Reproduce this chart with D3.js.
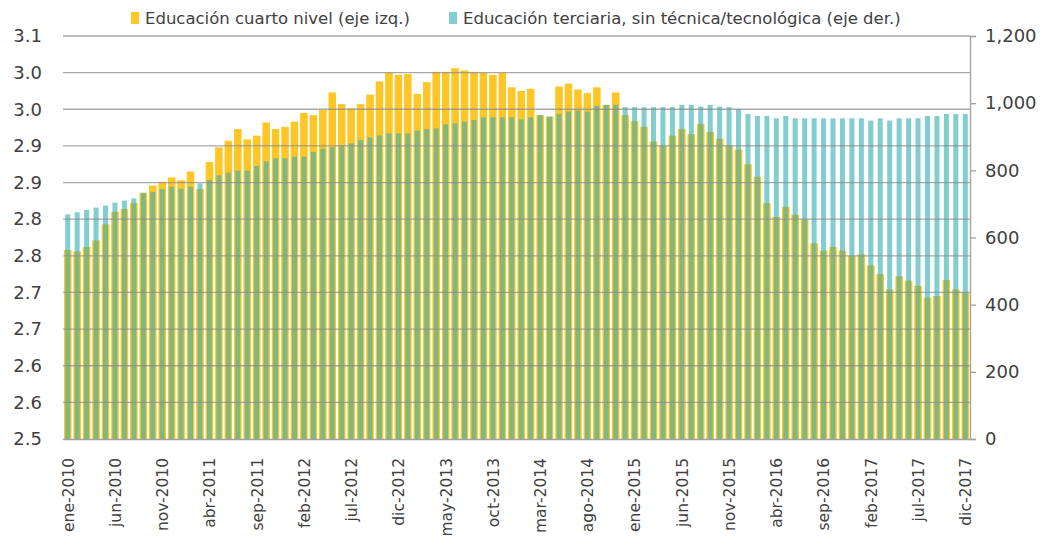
<!DOCTYPE html>
<html>
<head>
<meta charset="utf-8">
<script src="https://cdn.jsdelivr.net/npm/d3@7"></script>
<style>
body{margin:0;background:#fff}
text{font-family:'DejaVu Sans',sans-serif;fill:#404040}
</style>
</head>
<body>
<div id="chart"></div>
<script>
const monthNames=['ene','feb','mar','abr','may','jun','jul','ago','sep','oct','nov','dic']
const years=[2010,2011,2012,2013,2014,2015,2016,2017]
const months=years.flatMap(y=>monthNames.map(m=>m+'-'+y))

// Educación cuarto nivel (eje izq.)
const cuartoNivel=[
	2.758,2.756,2.762,2.771,2.793,2.810,2.814,2.822,2.836,2.846,
	2.851,2.857,2.853,2.865,2.841,2.878,2.898,2.907,2.923,2.909,
	2.914,2.932,2.923,2.926,2.933,2.945,2.942,2.949,2.973,2.957,
	2.951,2.957,2.970,2.988,3.000,2.997,2.998,2.971,2.987,3.001,
	3.001,3.006,3.003,3.001,3.000,2.997,3.000,2.980,2.975,2.978,
	2.942,2.940,2.981,2.985,2.977,2.972,2.980,2.956,2.973,2.942,
	2.934,2.926,2.906,2.900,2.914,2.923,2.916,2.930,2.919,2.910,
	2.901,2.895,2.875,2.858,2.822,2.803,2.817,2.806,2.800,2.767,
	2.757,2.762,2.757,2.750,2.752,2.737,2.725,2.704,2.722,2.716,
	2.709,2.693,2.695,2.717,2.704,2.700]

// Educación terciaria, sin técnica/tecnológica (eje der.)
const terciaria=[
	669,675,682,689,695,704,710,716,733,736,
	744,751,745,751,761,771,785,793,799,799,
	813,827,836,836,841,841,855,864,869,875,
	880,890,898,904,910,910,910,918,923,925,
	937,940,945,950,958,958,958,958,952,958,
	965,960,968,975,978,975,992,995,995,988,
	988,988,988,988,988,995,995,990,995,990,
	988,982,968,962,962,955,962,955,955,955,
	955,955,955,955,955,948,955,948,955,955,
	955,962,962,968,968,968]

const xTickLabels=['ene-2010','jun-2010','nov-2010','abr-2011','sep-2011','feb-2012','jul-2012','dic-2012','may-2013','oct-2013',
	'mar-2014','ago-2014','ene-2015','jun-2015','nov-2015','abr-2016','sep-2016','feb-2017','jul-2017','dic-2017']
const leftTicks=[2.5,2.55,2.6,2.65,2.7,2.75,2.8,2.85,2.9,2.95,3.0,3.05]
const leftTickLabels=['2.5','2.6','2.6','2.7','2.7','2.8','2.8','2.9','2.9','3.0','3.0','3.1']
const rightTicks=[0,200,400,600,800,1000,1200]
const seriesNames=['Educación cuarto nivel (eje izq.)','Educación terciaria, sin técnica/tecnológica (eje der.)']

const margin=({top:36,right:78,bottom:109,left:63})
const width=1048-margin.left-margin.right,
	height=548-margin.top-margin.bottom

const gold='#FFC628', teal='#39B0B0', tealOpacity=0.63

let svg=d3.select('#chart').append('svg')
	.attr('width',1048)
	.attr('height',548)

let g=svg.append('g')
	.attr('transform','translate('+margin.left+','+margin.top+')')

let xScale=d3.scaleBand()
	.domain(months)
	.range([0,width])
	.paddingInner(0.2)
	.paddingOuter(0.1)

let xNarrow=d3.scaleBand()
	.domain(months)
	.range([0,width])
	.paddingInner(0.47)
	.paddingOuter(0.235)

let yLeft=d3.scaleLinear()
	.domain([2.5,3.05])
	.range([height,0])

let yRight=d3.scaleLinear()
	.domain([0,1200])
	.range([height,0])

// bars
g.append('g').selectAll('rect')
	.data(cuartoNivel)
	.join('rect')
	.attr('x',(d,i)=>xScale(months[i]))
	.attr('width',xScale.bandwidth())
	.attr('y',d=>yLeft(d))
	.attr('height',d=>height-yLeft(d))
	.attr('fill',gold)

g.append('g').selectAll('rect')
	.data(terciaria)
	.join('rect')
	.attr('x',(d,i)=>xNarrow(months[i]))
	.attr('width',xNarrow.bandwidth())
	.attr('y',d=>yRight(d))
	.attr('height',d=>height-yRight(d))
	.attr('fill',teal)
	.attr('fill-opacity',tealOpacity)

// gridlines
g.append('g').selectAll('line')
	.data(leftTicks.slice(1))
	.join('line')
	.attr('x1',0)
	.attr('x2',width)
	.attr('y1',d=>yLeft(d))
	.attr('y2',d=>yLeft(d))
	.attr('stroke','#8c8c8c')
	.attr('stroke-opacity',0.75)
	.attr('stroke-width',1.3)

// left axis
let yAxisLeft=d3.axisLeft(yLeft)
	.tickValues(leftTicks)
	.tickFormat((d,i)=>leftTickLabels[i])
	.tickSize(0)
	.tickPadding(21)

g.append('g')
	.attr('class','y-axis-left')
	.call(yAxisLeft)
	.call(s=>s.select('.domain').remove())
	.selectAll('text')
	.style('font-size','18px')

// right axis
let yAxisRight=d3.axisRight(yRight)
	.tickValues(rightTicks)
	.tickFormat(d3.format(','))
	.tickSize(6)
	.tickPadding(9)

g.append('g')
	.attr('class','y-axis-right')
	.attr('transform',`translate(${width},0)`)
	.call(yAxisRight)
	.call(s=>s.selectAll('.domain,line').attr('stroke','#a0a0a0').attr('stroke-width',1.3))
	.selectAll('text')
	.style('font-size','18px')

// bottom axis
let xAxis=d3.axisBottom(xScale)
	.tickValues(xTickLabels)
	.tickSize(0)

g.append('g')
	.attr('class','x-axis')
	.attr('transform',`translate(0,${height})`)
	.call(xAxis)
	.call(s=>s.select('.domain').attr('stroke','#a0a0a0').attr('stroke-width',1.3).attr('d',`M0,0.5H${width}`))
	.selectAll('text')
	.style('font-size','15.5px')
	.attr('text-anchor','end')
	.attr('transform','rotate(-90)')
	.attr('x',-19)
	.attr('y',0)
	.attr('dy','0.38em')

// legend
const legendX=[131,449]
const legend=svg.append('g')
legend.selectAll('rect')
	.data(seriesNames)
	.join('rect')
	.attr('x',(d,i)=>legendX[i])
	.attr('y',12)
	.attr('width',8)
	.attr('height',12)
	.attr('fill',(d,i)=>i==0?gold:teal)
	.attr('fill-opacity',(d,i)=>i==0?1:tealOpacity)
legend.selectAll('text')
	.data(seriesNames)
	.join('text')
	.attr('x',(d,i)=>legendX[i]+14)
	.attr('y',18)
	.attr('dy','0.35em')
	.style('font-size','16.5px')
	.text(d=>d)
</script>
</body>
</html>
